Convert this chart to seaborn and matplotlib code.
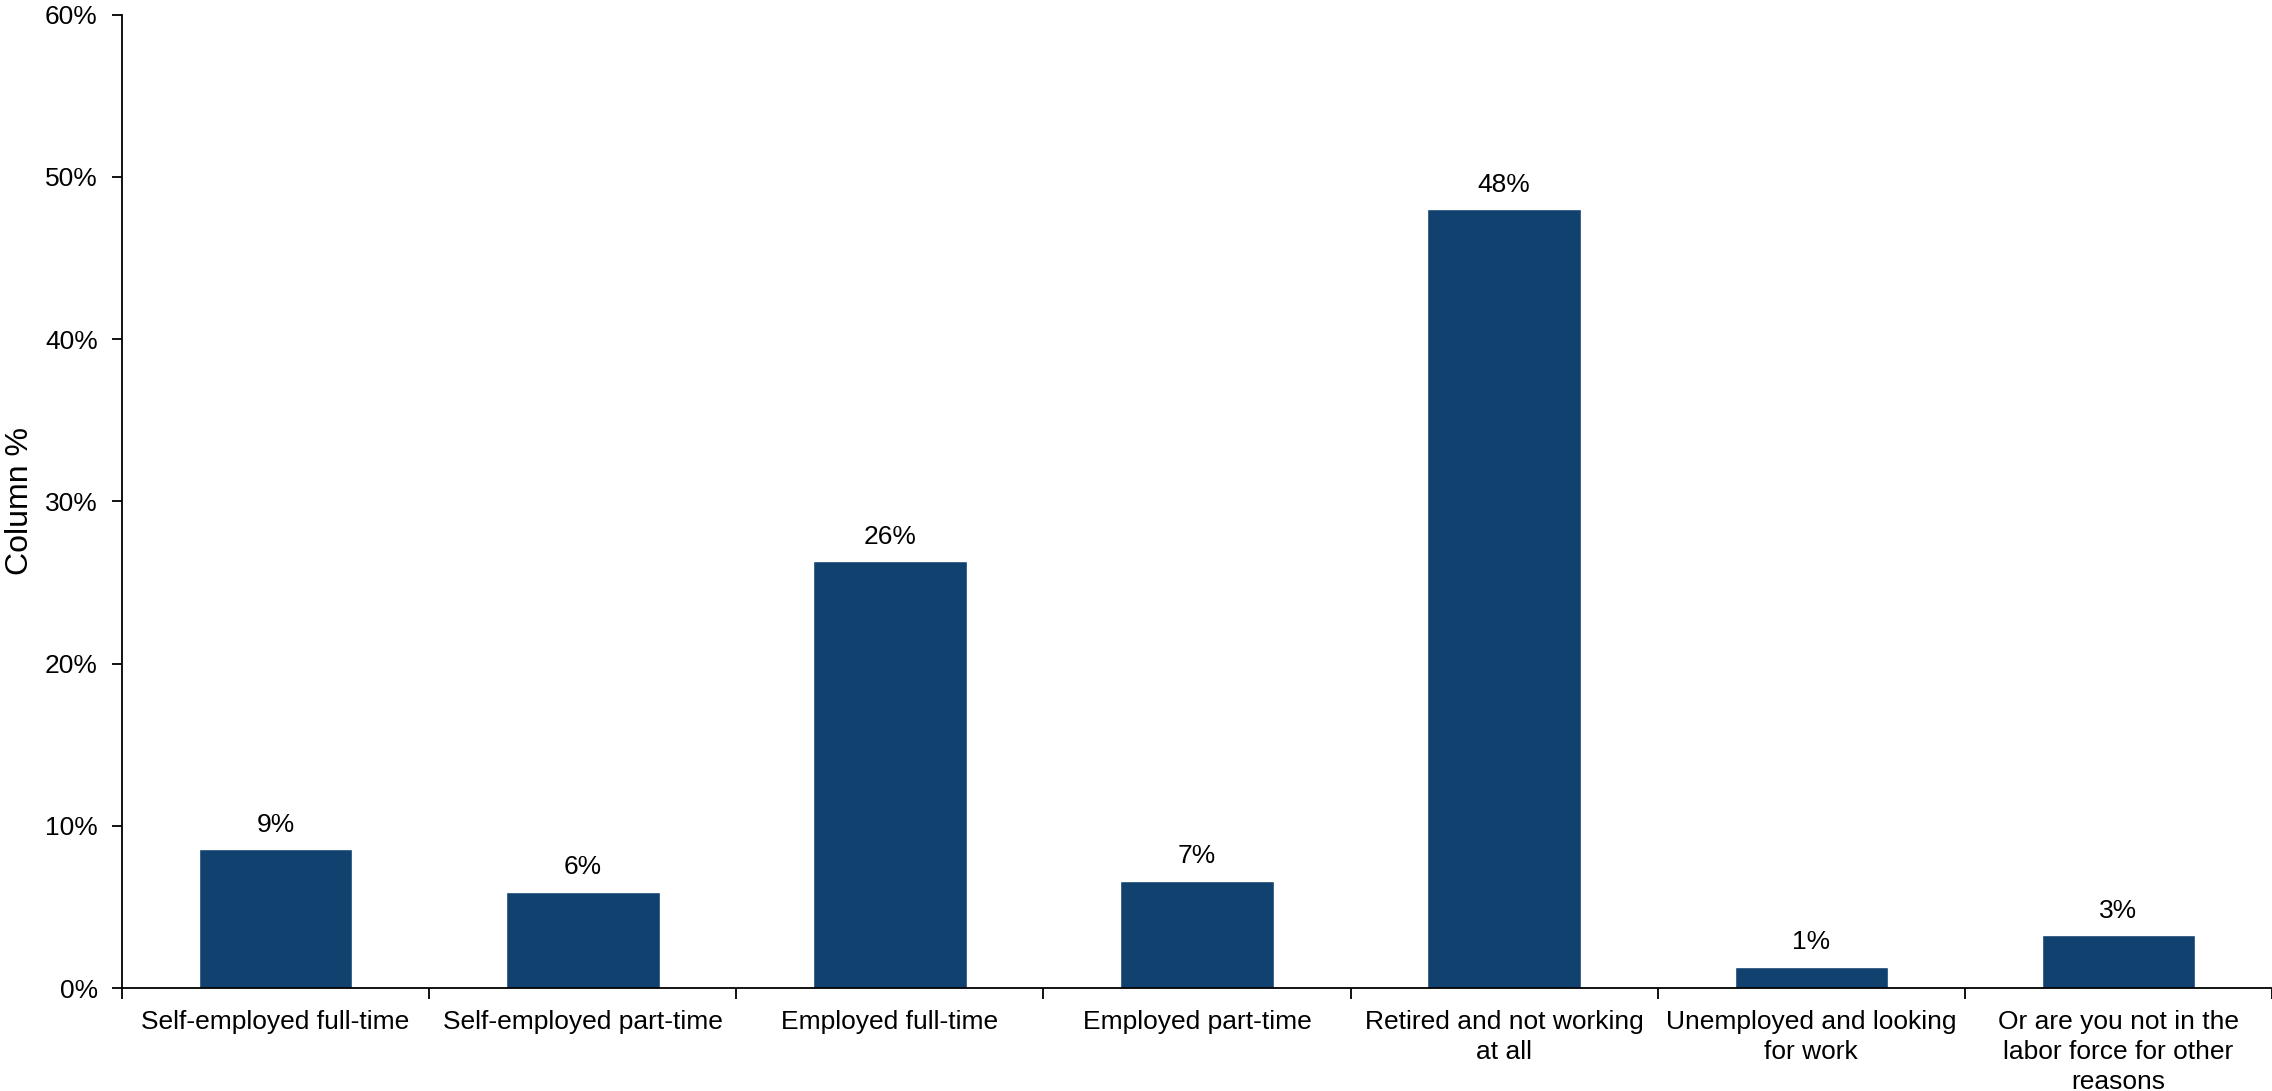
import numpy as np
import matplotlib
matplotlib.use("Agg")
import matplotlib.pyplot as plt
import seaborn as sns
from matplotlib.ticker import FixedLocator

# data
categories = [
    "Self-employed full-time",
    "Self-employed part-time",
    "Employed full-time",
    "Employed part-time",
    "Retired and not working\nat all",
    "Unemployed and looking\nfor work",
    "Or are you not in the\nlabor force for other\nreasons",
]
values = [8.56, 5.92, 26.3, 6.6, 48.0, 1.3, 3.25]
value_labels = ["9%", "6%", "26%", "7%", "48%", "1%", "3%"]
y_ticks = [0, 10, 20, 30, 40, 50, 60]

bar_color = "#11416E"

sns.set_style("white")
plt.rcParams["font.family"] = ["Liberation Sans", "DejaVu Sans"]
plt.rcParams["text.color"] = "black"
plt.rcParams["xtick.color"] = "black"
plt.rcParams["ytick.color"] = "black"

fig = plt.figure(figsize=(22.72, 10.91), dpi=100)
ax = fig.add_axes([0.0537, 0.0944, 0.9463, 0.8923])

sns.barplot(x=categories, y=values, color=bar_color, saturation=1, width=0.5, ax=ax)

ax.bar_label(ax.containers[0], labels=value_labels, padding=9, fontsize=19, color="black")

ax.set_ylim(0, 60)
ax.set_xlim(-0.5, len(categories) - 0.5)
ax.set_yticks(y_ticks)
ax.set_yticklabels([f"{t}%" for t in y_ticks], fontsize=19)
ax.tick_params(axis="y", direction="out", length=7, width=1.3, pad=10.5, left=True)
ax.tick_params(axis="x", which="major", length=0, pad=15.5, labelsize=19)
ax.xaxis.set_minor_locator(FixedLocator(np.arange(-0.5, len(categories), 1.0)))
ax.tick_params(axis="x", which="minor", direction="out", length=8, width=1.3, bottom=True)
for lbl in ax.get_xticklabels():
    lbl.set_horizontalalignment("center")
    lbl.set_linespacing(1.32)

sns.despine(ax=ax, top=True, right=True)
for side in ["left", "bottom"]:
    ax.spines[side].set_color("black")
    ax.spines[side].set_linewidth(1.3)

ax.set_xlabel("")
ax.set_ylabel("")
fig.text(0.0086, 0.5406, "Column %", rotation=90, va="center", ha="center", fontsize=23)

fig.savefig("out.png", dpi=100, facecolor="white")
